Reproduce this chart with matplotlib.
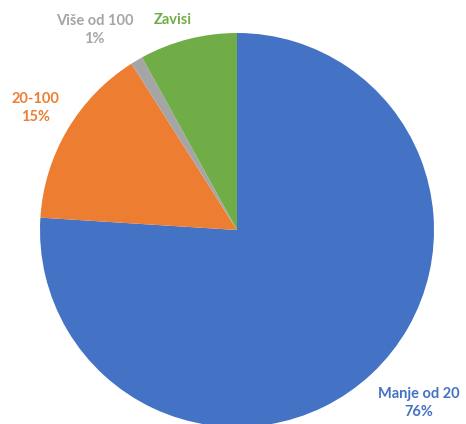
import matplotlib
matplotlib.use('Agg')
import matplotlib.pyplot as plt

# Podaci
kategorije = ['Manje od 20', '20-100', 'Više od 100', 'Zavisi']
vrijednosti = [76, 15, 1, 8]
prikazi_postotak = [True, True, True, False]
boje = ['#4472C4', '#ED7D31', '#A5A5A5', '#70AD47']

W, H = 466, 424
cx, cy, r = 237, 230, 197

fig = plt.figure(figsize=(W / 100, H / 100), dpi=100)
ax = fig.add_axes([(cx - r) / W, (H - cy - r) / H, 2 * r / W, 2 * r / H])

wedges, _ = ax.pie(vrijednosti, colors=boje, startangle=90, counterclock=False,
                   wedgeprops=dict(linewidth=0))
ax.set_xlim(-1, 1)
ax.set_ylim(-1, 1)
ax.set_aspect('equal')
ax.axis('off')

# polozaj etiketa (u jedinicama radijusa)
polozaji = [(0.924, -0.878), (-1.025, 0.619), (-0.723, 1.015), (-0.327, 1.066)]
for kat, val, pct, col, (x, y) in zip(kategorije, vrijednosti, prikazi_postotak, boje, polozaji):
    txt = f'{kat}\n{val}%' if pct else kat
    ax.text(x, y, txt, ha='center', va='center',
            color=col, fontsize=10.5, fontweight='bold', family=['Lato', 'DejaVu Sans'],
            linespacing=1.3, clip_on=False)

fig.savefig('out.png', dpi=100)
